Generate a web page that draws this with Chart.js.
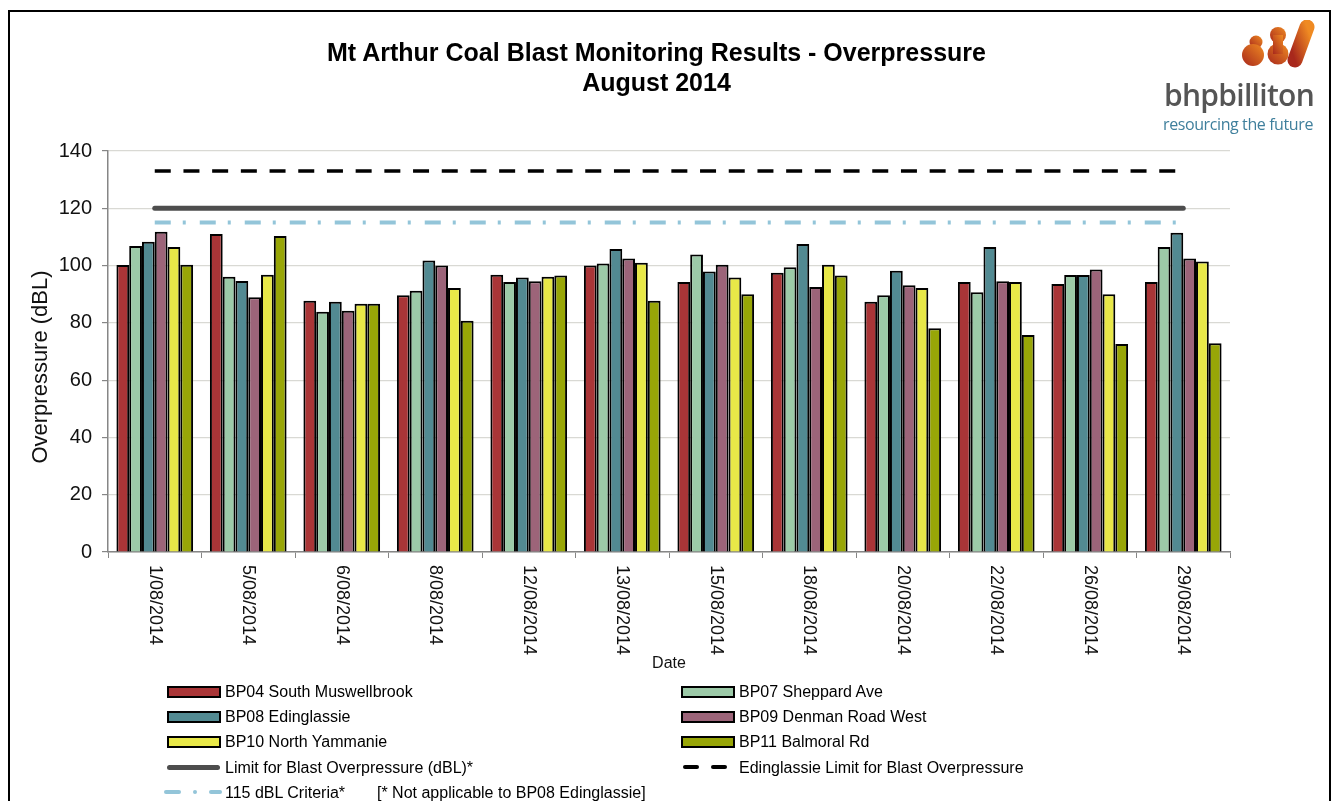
<!DOCTYPE html>
<html>
<head>
<meta charset="utf-8">
<script src="https://cdn.jsdelivr.net/npm/chart.js@4.4.1/dist/chart.umd.min.js"></script>
<style>
  body { margin: 0; background: #fff; font-family: "Liberation Sans", Arial, sans-serif; }
  #frame { position: absolute; left: 8px; top: 10px; width: 1319px; height: 900px; border: 2px solid #000; box-sizing: content-box; }
  #wrap { position: absolute; left: 0; top: 0; width: 1333px; height: 801px; }
  #title { position: absolute; left: 0; top: 37px; width: 1313px; text-align: center; font-weight: bold; font-size: 25px; line-height: 30px; color: #000; }
  #logo { position: absolute; left: 1150px; top: 20px; width: 180px; height: 120px; }
  #logo .name { position: absolute; left: 14px; top: 54px; font-family: "Open Sans", sans-serif; font-weight: 600; font-size: 30px; color: #555; letter-spacing: -0.7px; }
  #logo .tag { position: absolute; left: 13px; top: 96px; font-family: "Open Sans", sans-serif; font-size: 16px; color: #3f7f9c; letter-spacing: -0.4px; line-height: 16px; }
  #legend { position: absolute; left: 0; top: 679px; width: 1333px; font-size: 16px; color: #000; }
  .item { position: absolute; height: 25px; line-height: 25px; white-space: nowrap; }
  .item .sw { position: absolute; left: 0; top: 7px; width: 50px; height: 8px; border: 2px solid #000; }
  .item .ln { position: absolute; left: 0; top: 10px; width: 53px; }
  .item span.t { position: absolute; left: 58px; top: 0; }
</style>
</head>
<body>
<div id="frame"></div>
<div id="wrap"><canvas id="chart"></canvas></div>
<div id="title">Mt Arthur Coal Blast Monitoring Results - Overpressure<br>August 2014</div>
<div id="logo">
  <svg width="180" height="60" viewBox="0 0 180 60" style="position:absolute;left:0;top:0">
    <defs>
      <linearGradient id="g" x1="0" y1="1" x2="1" y2="0">
        <stop offset="0" stop-color="#a8281c"/>
        <stop offset="1" stop-color="#ef8a22"/>
      </linearGradient>
    </defs>
    <circle cx="106" cy="22" r="6.5" fill="url(#g)"/>
    <circle cx="103" cy="35" r="11" fill="url(#g)"/>
    <circle cx="128" cy="15" r="8" fill="url(#g)"/>
    <circle cx="128" cy="34" r="10.5" fill="url(#g)"/>
    <rect x="123" y="15" width="10" height="19" fill="url(#g)"/>
    <line x1="145" y1="40" x2="157" y2="7" stroke="url(#g)" stroke-width="15" stroke-linecap="round"/>
  </svg>
  <div class="name">bhpbilliton</div>
  <div class="tag">resourcing the future</div>
</div>
<div id="legend"></div>
<script>
const DATES = ['1/08/2014', '5/08/2014', '6/08/2014', '8/08/2014', '12/08/2014', '13/08/2014',
  '15/08/2014', '18/08/2014', '20/08/2014', '22/08/2014', '26/08/2014', '29/08/2014'];

const BP04 = [100.2, 111.0, 87.7, 89.6, 96.8, 100.0, 94.3, 97.5, 87.4, 94.3, 93.6, 94.3];
const BP07 = [106.8, 96.1, 83.9, 91.2, 94.3, 100.7, 103.9, 99.4, 89.6, 90.7, 96.7, 106.5];
const BP08 = [108.3, 94.6, 87.4, 101.8, 95.8, 105.8, 97.9, 107.5, 98.2, 106.5, 96.7, 111.5];
const BP09 = [111.8, 88.9, 84.2, 100.0, 94.5, 102.5, 100.3, 92.5, 93.1, 94.5, 98.6, 102.5];
const BP10 = [106.5, 96.8, 86.7, 92.2, 96.1, 101.0, 95.8, 100.3, 92.2, 94.3, 90.0, 101.4];
const BP11 = [100.3, 110.3, 86.7, 80.7, 96.5, 87.7, 90.0, 96.5, 78.1, 75.8, 72.6, 72.9];

const LIMIT = DATES.map(() => 120);
const EDIN_LIMIT = DATES.map(() => 133);
const CRITERIA = DATES.map(() => 115);

const Y_TICKS = [0, 20, 40, 60, 80, 100, 120, 140];

const barSeries = [
  { label: 'BP04 South Muswellbrook', data: BP04, color: '#a93537' },
  { label: 'BP07 Sheppard Ave', data: BP07, color: '#9ccaa8' },
  { label: 'BP08 Edinglassie', data: BP08, color: '#528a92' },
  { label: 'BP09 Denman Road West', data: BP09, color: '#9c6479' },
  { label: 'BP10 North Yammanie', data: BP10, color: '#e8e848' },
  { label: 'BP11 Balmoral Rd', data: BP11, color: '#98a607' }
];

const datasets = barSeries.map(s => ({
  type: 'bar',
  label: s.label,
  data: s.data,
  backgroundColor: s.color,
  borderColor: '#000',
  borderWidth: 2,
  barPercentage: 1.0,
  categoryPercentage: 0.82,
  order: 2
}));

datasets.push({
  type: 'line', label: 'Limit for Blast Overpressure (dBL)*', data: LIMIT,
  borderColor: '#4d4d4d', borderWidth: 5, borderCapStyle: 'round', pointRadius: 0, order: 1
});
datasets.push({
  type: 'line', label: 'Edinglassie Limit for Blast Overpressure', data: EDIN_LIMIT,
  borderColor: '#000', borderWidth: 3.5, borderDash: [16, 12.7], borderCapStyle: 'butt', pointRadius: 0, order: 1
});
datasets.push({
  type: 'line', label: '115 dBL Criteria*', data: CRITERIA,
  borderColor: '#93c5d9', borderWidth: 4, borderDash: [16, 12, 3, 14], borderCapStyle: 'butt', pointRadius: 0, order: 1
});

// x tick labels read top-to-bottom, and the y title sits where Excel puts it
const customText = {
  id: 'customText',
  afterDraw(chart) {
    const ctx = chart.ctx;
    const xs = chart.scales.x;
    ctx.save();
    ctx.fillStyle = '#111';
    ctx.font = '18px "Liberation Sans", Arial, sans-serif';
    ctx.textAlign = 'left';
    ctx.textBaseline = 'middle';
    DATES.forEach((d, i) => {
      ctx.save();
      ctx.translate(xs.getPixelForValue(i), xs.top + 13);
      ctx.rotate(Math.PI / 2);
      ctx.fillText(d, 0, 0);
      ctx.restore();
    });
    ctx.font = '16px "Liberation Sans", Arial, sans-serif';
    ctx.textAlign = 'center';
    ctx.fillText('Date', (xs.left + xs.right) / 2, 664);
    ctx.save();
    ctx.translate(41, 367);
    ctx.rotate(-Math.PI / 2);
    ctx.font = '22px "Liberation Sans", Arial, sans-serif';
    ctx.fillText('Overpressure (dBL)', 0, 0);
    ctx.restore();
    ctx.restore();
  }
};

new Chart(document.getElementById('chart'), {
  data: { labels: DATES, datasets },
  plugins: [customText],
  options: {
    responsive: true,
    maintainAspectRatio: false,
    animation: false,
    layout: { padding: { left: 20, top: 151, right: 103, bottom: 125 } },
    plugins: {
      legend: { display: false },
      title: { display: false },
      tooltip: { enabled: false }
    },
    scales: {
      x: {
        offset: true,
        grid: { drawOnChartArea: false, drawTicks: true, tickLength: 6, tickColor: '#868686', offset: true },
        border: { color: '#868686', width: 1.5 },
        ticks: { display: false },
        afterFit: s => { s.height = 124; }
      },
      y: {
        min: 0, max: 140,
        afterBuildTicks: s => { s.ticks = Y_TICKS.map(v => ({ value: v })); },
        grid: { color: '#d9d9d4', lineWidth: 1.2, tickLength: 6, tickColor: '#868686' },
        border: { color: '#868686', width: 1.5 },
        ticks: { color: '#111', font: { size: 20, family: '"Liberation Sans", Arial, sans-serif' }, padding: 10 },
        afterFit: s => { s.width = 88; }
      }
    }
  }
});

// two-column legend, built from the same series
const legendItems = [
  ...barSeries.map(s => ({ label: s.label, kind: 'bar', color: s.color })),
  { label: 'Limit for Blast Overpressure (dBL)*', kind: 'solid' },
  { label: 'Edinglassie Limit for Blast Overpressure', kind: 'dash' },
  { label: '115 dBL Criteria*', kind: 'dashdot', note: '[* Not applicable to BP08 Edinglassie]' }
];

const legend = document.getElementById('legend');
legendItems.forEach((it, i) => {
  const col = i % 2, row = Math.floor(i / 2);
  const el = document.createElement('div');
  el.className = 'item';
  el.style.left = (col ? 681 : 167) + 'px';
  el.style.top = (row * 25.2) + 'px';
  let sw = '';
  if (it.kind === 'bar') {
    sw = `<div class="sw" style="background:${it.color}"></div>`;
  } else if (it.kind === 'solid') {
    sw = '<div class="ln" style="height:5px;top:10px;background:#4d4d4d;border-radius:3px"></div>';
  } else if (it.kind === 'dash') {
    sw = '<div class="ln" style="top:10px;height:4px">' +
      '<div style="position:absolute;left:2px;width:16px;height:4px;background:#000;border-radius:2px"></div>' +
      '<div style="position:absolute;left:30px;width:16px;height:4px;background:#000;border-radius:2px"></div></div>';
  } else {
    sw = '<div class="ln" style="top:10px;height:4px">' +
      '<div style="position:absolute;left:-3px;width:17px;height:4px;background:#93c5d9;border-radius:2px"></div>' +
      '<div style="position:absolute;left:26px;width:4px;height:4px;background:#93c5d9;border-radius:2px"></div>' +
      '<div style="position:absolute;left:42px;width:13px;height:4px;background:#93c5d9;border-radius:2px"></div></div>';
  }
  el.innerHTML = sw + `<span class="t">${it.label}</span>`;
  legend.appendChild(el);
  if (it.note) {
    const n = document.createElement('div');
    n.className = 'item';
    n.style.left = '377px';
    n.style.top = (row * 25.2) + 'px';
    n.textContent = it.note;
    legend.appendChild(n);
  }
});
</script>
</body>
</html>
